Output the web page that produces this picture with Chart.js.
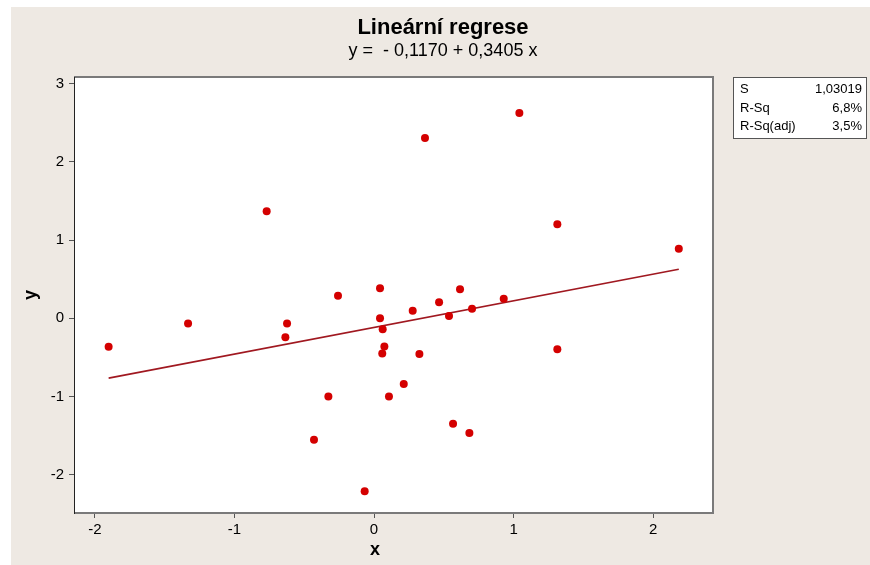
<!DOCTYPE html>
<html>
<head>
<meta charset="utf-8">
<script src="https://cdn.jsdelivr.net/npm/chart.js@4/dist/chart.umd.min.js"></script>
<style>
html,body{margin:0;padding:0;background:#ffffff;}
#wrap{position:absolute;left:0;top:0;width:870px;height:565px;}
</style>
</head>
<body>
<div id="wrap"><canvas id="c" width="870" height="565"></canvas></div>
<script>
// ---- data ----
const xValues = [-1.901, -1.332, -0.769, -0.623, -0.635, -0.258, -0.327, -0.430, -0.067,
  0.043, 0.043, 0.062, 0.074, 0.059, 0.107, 0.365, 0.277, 0.325, 0.213, 0.466,
  0.537, 0.616, 0.566, 0.683, 0.702, 0.929, 1.041, 1.313, 1.313, 2.183];
const yValues = [-0.362, -0.068, 1.367, -0.068, -0.243, 0.289, -1.000, -1.550, -2.210,
  0.383, 0.000, -0.140, -0.360, -0.450, -1.000, 2.303, 0.097, -0.456, -0.839, 0.204,
  0.030, 0.370, -1.346, -1.465, 0.123, 0.250, 2.622, 1.200, -0.396, 0.889];
const fitLineX = [-1.901, 2.183];
const fitLineY = [-0.764, 0.626];
const xTicks = [-2, -1, 0, 1, 2];
const yTicks = [-2, -1, 0, 1, 2, 3];
const titleText = "Lineární regrese";
const subtitleText = "y =  - 0,1170 + 0,3405 x";
const statLabels = ["S", "R-Sq", "R-Sq(adj)"];
const statValues = ["1,03019", "6,8%", "3,5%"];
const xAxisTitle = "x";
const yAxisTitle = "y";

const FONT = "'Liberation Sans', Arial, sans-serif";
const NARROW = "'Liberation Sans Narrow', 'Arial Narrow', 'Liberation Sans', sans-serif";

const scatterData = xValues.map((x, i) => ({x: x, y: yValues[i]}));
const lineData = fitLineX.map((x, i) => ({x: x, y: fitLineY[i]}));

const decor = {
  id: 'decor',
  beforeDraw(chart) {
    const ctx = chart.ctx;
    const a = chart.chartArea;
    ctx.save();
    ctx.fillStyle = '#ffffff';
    ctx.fillRect(0, 0, chart.width, chart.height);
    ctx.fillStyle = '#eee9e3';
    ctx.fillRect(11, 7, chart.width - 11, chart.height - 7);
    ctx.fillStyle = '#ffffff';
    ctx.fillRect(a.left, a.top, a.right - a.left, a.bottom - a.top);
    ctx.restore();
  },
  afterDraw(chart) {
    const ctx = chart.ctx;
    const a = chart.chartArea;
    ctx.save();
    // frame
    ctx.strokeStyle = '#7a7a7a';
    ctx.lineWidth = 2;
    ctx.beginPath();
    ctx.moveTo(a.left, a.top); ctx.lineTo(a.right, a.top); ctx.lineTo(a.right, a.bottom); ctx.lineTo(a.left, a.bottom);
    ctx.stroke();
    ctx.strokeStyle = '#222222';
    ctx.lineWidth = 1;
    ctx.beginPath();
    ctx.moveTo(a.left + 0.5, a.top); ctx.lineTo(a.left + 0.5, a.bottom + 1);
    ctx.stroke();
    // titles
    ctx.fillStyle = '#000000';
    ctx.textAlign = 'center';
    ctx.textBaseline = 'middle';
    ctx.font = 'bold 22px ' + NARROW;
    ctx.fillText(titleText, 443, 28);
    ctx.font = '18px ' + NARROW;
    ctx.fillText(subtitleText, 443, 51);
    // axis titles
    ctx.font = 'bold 18px ' + FONT;
    ctx.fillText(xAxisTitle, 375, 550);
    ctx.save();
    ctx.translate(31, 295);
    ctx.rotate(-Math.PI / 2);
    ctx.fillText(yAxisTitle, 0, 0);
    ctx.restore();
    // stats box
    ctx.fillStyle = '#ffffff';
    ctx.fillRect(733, 77, 134, 62);
    ctx.strokeStyle = '#555555';
    ctx.lineWidth = 1;
    ctx.strokeRect(733.5, 77.5, 133, 61);
    ctx.fillStyle = '#000000';
    ctx.font = '13px ' + FONT;
    const rowsY = [89, 108, 126];
    statLabels.forEach((lab, i) => {
      ctx.textAlign = 'left';
      ctx.fillText(lab, 740, rowsY[i]);
      ctx.textAlign = 'right';
      ctx.fillText(statValues[i], 862, rowsY[i]);
    });
    ctx.restore();
  }
};

new Chart(document.getElementById('c'), {
  type: 'scatter',
  data: {
    datasets: [
      {
        type: 'line',
        data: lineData,
        borderColor: '#a01820',
        borderWidth: 1.6,
        pointRadius: 0,
        fill: false,
        order: 2
      },
      {
        type: 'scatter',
        data: scatterData,
        backgroundColor: '#d40000',
        borderColor: '#d40000',
        pointRadius: 4,
        pointBorderWidth: 0,
        order: 1
      }
    ]
  },
  options: {
    responsive: false,
    animation: false,
    events: [],
    layout: { padding: { top: 77, right: 157, left: 0, bottom: 0 } },
    plugins: { legend: { display: false }, tooltip: { enabled: false }, title: { display: false } },
    scales: {
      x: {
        type: 'linear',
        min: -2.149, max: 2.428,
        afterFit(s) { s.height = 52; },
        afterBuildTicks(s) { s.ticks = xTicks.map(v => ({value: v})); },
        border: { display: false },
        grid: { drawOnChartArea: false, drawTicks: true, tickLength: 5, color: '#555555', lineWidth: 1 },
        ticks: { color: '#000000', font: { family: FONT, size: 15 }, padding: 3 }
      },
      y: {
        type: 'linear',
        min: -2.487, max: 3.082,
        afterFit(s) { s.width = 74; },
        afterBuildTicks(s) { s.ticks = yTicks.map(v => ({value: v})); },
        border: { display: false },
        grid: { drawOnChartArea: false, drawTicks: true, tickLength: 5, color: '#555555', lineWidth: 1 },
        ticks: { color: '#000000', font: { family: FONT, size: 15 }, padding: 5 }
      }
    }
  },
  plugins: [decor]
});
</script>
</body>
</html>
